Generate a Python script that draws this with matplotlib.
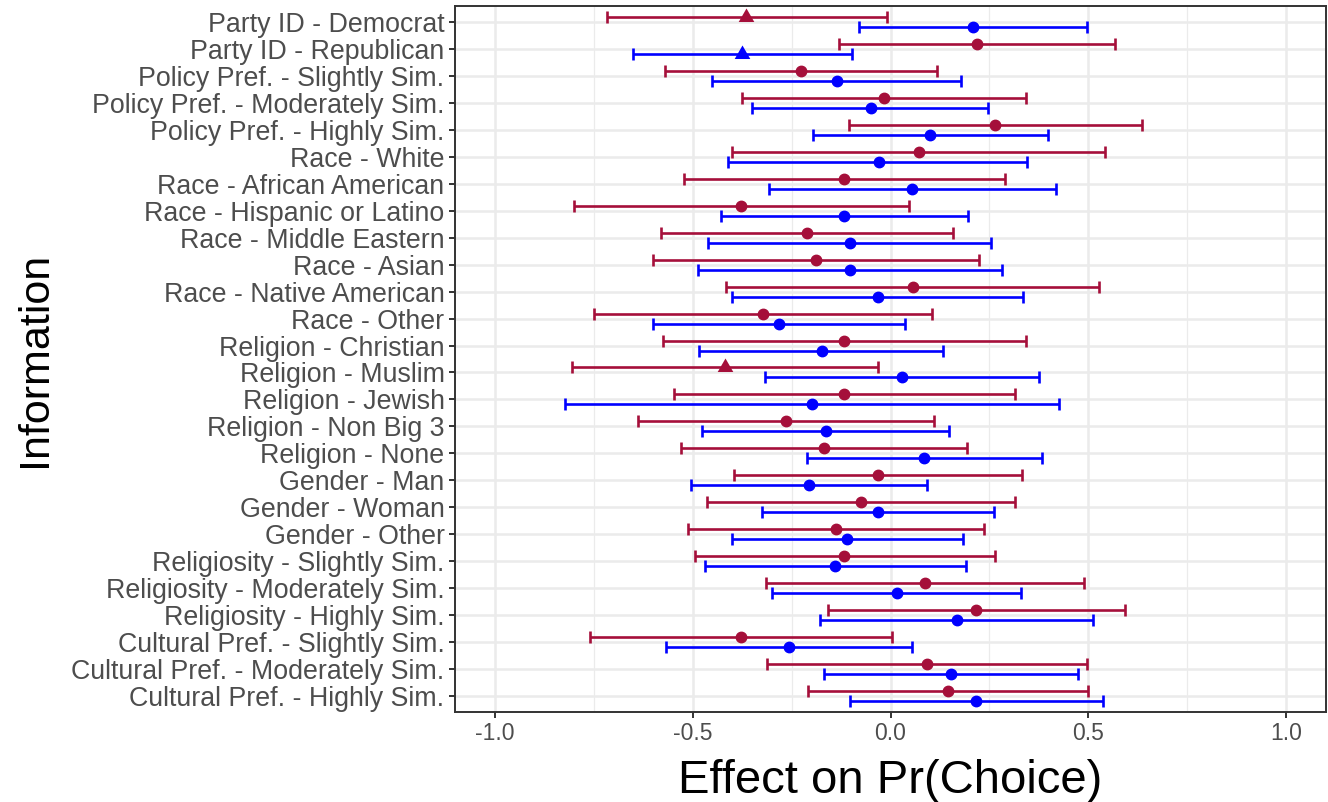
import numpy as np
import matplotlib
matplotlib.use("Agg")
import matplotlib.pyplot as plt
from matplotlib.ticker import FixedLocator, FixedFormatter

plt.rcParams['font.family'] = ['Liberation Sans', 'DejaVu Sans']
plt.rcParams['axes.unicode_minus'] = False

# Categories, top to bottom
categories = [
    "Party ID - Democrat", "Party ID - Republican",
    "Policy Pref. - Slightly Sim.", "Policy Pref. - Moderately Sim.", "Policy Pref. - Highly Sim.",
    "Race - White", "Race - African American", "Race - Hispanic or Latino",
    "Race - Middle Eastern", "Race - Asian", "Race - Native American", "Race - Other",
    "Religion - Christian", "Religion - Muslim", "Religion - Jewish",
    "Religion - Non Big 3", "Religion - None",
    "Gender - Man", "Gender - Woman", "Gender - Other",
    "Religiosity - Slightly Sim.", "Religiosity - Moderately Sim.", "Religiosity - Highly Sim.",
    "Cultural Pref. - Slightly Sim.", "Cultural Pref. - Moderately Sim.", "Cultural Pref. - Highly Sim.",
]

# red series (upper)
red_est = [-0.364, 0.219, -0.226, -0.017, 0.263, 0.071, -0.117, -0.378, -0.211, -0.188,
           0.056, -0.322, -0.117, -0.419, -0.117, -0.264, -0.169, -0.031, -0.074, -0.138,
           -0.117, 0.087, 0.216, -0.378, 0.092, 0.144]
red_lo = [-0.715, -0.129, -0.569, -0.374, -0.106, -0.400, -0.522, -0.800, -0.579, -0.599,
          -0.416, -0.749, -0.574, -0.805, -0.546, -0.637, -0.530, -0.396, -0.464, -0.512,
          -0.493, -0.315, -0.158, -0.760, -0.312, -0.209]
red_hi = [-0.010, 0.568, 0.118, 0.341, 0.634, 0.542, 0.290, 0.046, 0.157, 0.224,
          0.527, 0.106, 0.343, -0.031, 0.315, 0.109, 0.192, 0.333, 0.315, 0.235,
          0.263, 0.488, 0.592, 0.005, 0.496, 0.499]

# blue series (lower)
blue_est = [0.208, -0.374, -0.136, -0.050, 0.101, -0.030, 0.055, -0.117, -0.102, -0.102,
            -0.031, -0.282, -0.173, 0.029, -0.198, -0.164, 0.085, -0.207, -0.031, -0.109,
            -0.140, 0.016, 0.167, -0.257, 0.153, 0.217]
blue_lo = [-0.080, -0.650, -0.450, -0.349, -0.196, -0.410, -0.306, -0.427, -0.461, -0.487,
           -0.400, -0.600, -0.484, -0.316, -0.823, -0.475, -0.212, -0.503, -0.325, -0.401,
           -0.468, -0.300, -0.177, -0.566, -0.167, -0.102]
blue_hi = [0.497, -0.098, 0.178, 0.247, 0.399, 0.345, 0.419, 0.196, 0.254, 0.281,
           0.335, 0.036, 0.133, 0.376, 0.425, 0.147, 0.382, 0.092, 0.261, 0.184,
           0.190, 0.330, 0.512, 0.054, 0.473, 0.538]

xticks = [-1.0, -0.5, 0.0, 0.5, 1.0]
xtick_labels = ["-1.0", "-0.5", "0.0", "0.5", "1.0"]

RED = "#A50F3A"
BLUE = "#0000FF"
TRI = [(0, 1), (-0.866, -0.5), (0.866, -0.5)]  # centroid-centred triangle

fig = plt.figure(figsize=(13.28, 8.02), dpi=100)
ax = fig.add_axes([455 / 1328, 1 - 712 / 802, (1326 - 455) / 1328, (712 - 6) / 802])

n = len(categories)
ypos = n - np.arange(n)
dodge = 0.186


def draw_series(est, lo, hi, offset, color):
    est = np.array(est)
    lo = np.array(lo)
    hi = np.array(hi)
    y = ypos + offset
    ax.errorbar(est, y, xerr=[est - lo, hi - est], fmt='none', ecolor=color,
                elinewidth=1.9, capsize=4.4, capthick=1.9, zorder=3)
    # triangles where the interval excludes zero
    sig = (hi < 0) | (lo > 0)
    ax.plot(est[~sig], y[~sig], 'o', color=color, markersize=7.5, zorder=4)
    ax.plot(est[sig], y[sig], linestyle='none', marker=TRI, color=color,
            markersize=13, markeredgewidth=0, zorder=4)


draw_series(red_est, red_lo, red_hi, dodge, RED)
draw_series(blue_est, blue_lo, blue_hi, -dodge, BLUE)

ax.set_xlim(-1.1, 1.1)
ax.set_ylim(0.4, n + 0.6)

ax.xaxis.set_major_locator(FixedLocator(xticks))
ax.xaxis.set_major_formatter(FixedFormatter(xtick_labels))
ax.xaxis.set_minor_locator(FixedLocator([-0.75, -0.25, 0.25, 0.75]))
ax.set_yticks(ypos)
ax.set_yticklabels(categories)

# theme_bw look
ax.grid(True, which='major', color='#EBEBEB', linewidth=1.8, zorder=0)
ax.grid(True, which='minor', axis='x', color='#EBEBEB', linewidth=0.9, zorder=0)
ax.set_axisbelow(True)
for s in ax.spines.values():
    s.set_color('#333333')
    s.set_linewidth(1.4)
ax.tick_params(axis='both', which='major', length=4.5, width=1.4, color='#333333',
               labelcolor='#4D4D4D', pad=3)
ax.tick_params(axis='x', labelsize=16.5)
ax.tick_params(axis='y', labelsize=19.3)
ax.tick_params(axis='both', which='minor', length=0)

ax.set_xlabel("Effect on Pr(Choice)", fontsize=34, labelpad=10)
ax.set_ylabel("Information", fontsize=31, labelpad=12)

fig.savefig("out.png", dpi=100)
